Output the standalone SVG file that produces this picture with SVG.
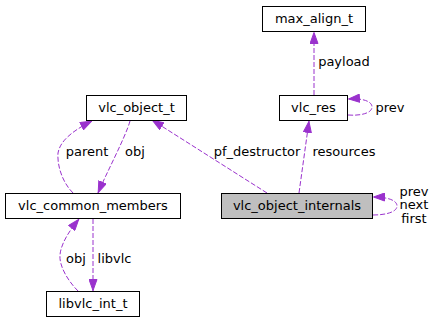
<svg xmlns="http://www.w3.org/2000/svg" width="435" height="323" viewBox="0 0 435 323">
<defs>
<style>
.node rect{fill:#ffffff;stroke:#000000;stroke-width:1}
.node.hl rect{fill:#bfbfbf}
text{font-family:"DejaVu Sans","Liberation Sans",sans-serif;font-size:13px;fill:#000000;text-anchor:middle}
.edge{fill:none;stroke:#9a32cd;stroke-width:1;stroke-dasharray:5,2}
</style>
<marker id="ah" viewBox="0 0 12 9" refX="12" refY="4.5" markerWidth="12" markerHeight="9" markerUnits="userSpaceOnUse" orient="auto">
<path d="M0.5,0.5 L11.5,4.5 L0.5,8.5 z" fill="#9a32cd" stroke="#9a32cd"/>
</marker>
</defs>
<rect width="435" height="323" fill="#ffffff"/>
<g id="connectors">
<path class="edge" marker-end="url(#ah)" d="M130,121 C126,136 106,174 98,193"/>
<path class="edge" marker-end="url(#ah)" d="M73,193 C62,182 57,165 58,153 C60,142 70,132 92,121"/>
<path class="edge" marker-end="url(#ah)" d="M93,219 L93,291"/>
<path class="edge" marker-end="url(#ah)" d="M78,291 C68,281 59,266 60,255 C61,243 70,230 79,219"/>
<path class="edge" marker-end="url(#ah)" d="M267,193 L152,120"/>
<path class="edge" marker-end="url(#ah)" d="M299,193 L309,121"/>
<path class="edge" marker-end="url(#ah)" d="M314,95 L314,32"/>
<path class="edge" marker-end="url(#ah)" d="M348,115 C361,116 372,113 372,107 C372,101 362,98 348,99"/>
<path class="edge" marker-end="url(#ah)" d="M373,215 C386,215 397,212 397,206 C397,200 387,197 373,197"/>
<text x="87" y="156">parent</text>
<text x="135" y="156">obj</text>
<text x="114.5" y="263">libvlc</text>
<text x="76" y="263">obj</text>
<text x="257" y="156">pf_destructor</text>
<text x="344" y="156">resources</text>
<text x="344" y="66">payload</text>
<text x="390" y="111.5">prev</text>
<text x="414" y="195.5">prev</text>
<text x="414" y="209">next</text>
<text x="414" y="222.5">first</text>
</g>
<g id="vlc_object_t" class="node"><rect x="86.5" y="95.5" width="100" height="25"/><text x="136.5" y="112">vlc_object_t</text></g>
<g id="vlc_common_members" class="node"><rect x="5.5" y="193.5" width="175" height="25"/><text x="93" y="210">vlc_common_members</text></g>
<g id="libvlc_int_t" class="node"><rect x="46.5" y="291.5" width="93" height="25"/><text x="93" y="308">libvlc_int_t</text></g>
<g id="max_align_t" class="node"><rect x="262.5" y="6.5" width="103" height="25"/><text x="314" y="23">max_align_t</text></g>
<g id="vlc_res" class="node"><rect x="279.5" y="95.5" width="68" height="25"/><text x="313.5" y="112">vlc_res</text></g>
<g id="vlc_object_internals" class="node hl"><rect x="221.5" y="193.5" width="151" height="25"/><text x="297" y="210">vlc_object_internals</text></g>
</svg>
